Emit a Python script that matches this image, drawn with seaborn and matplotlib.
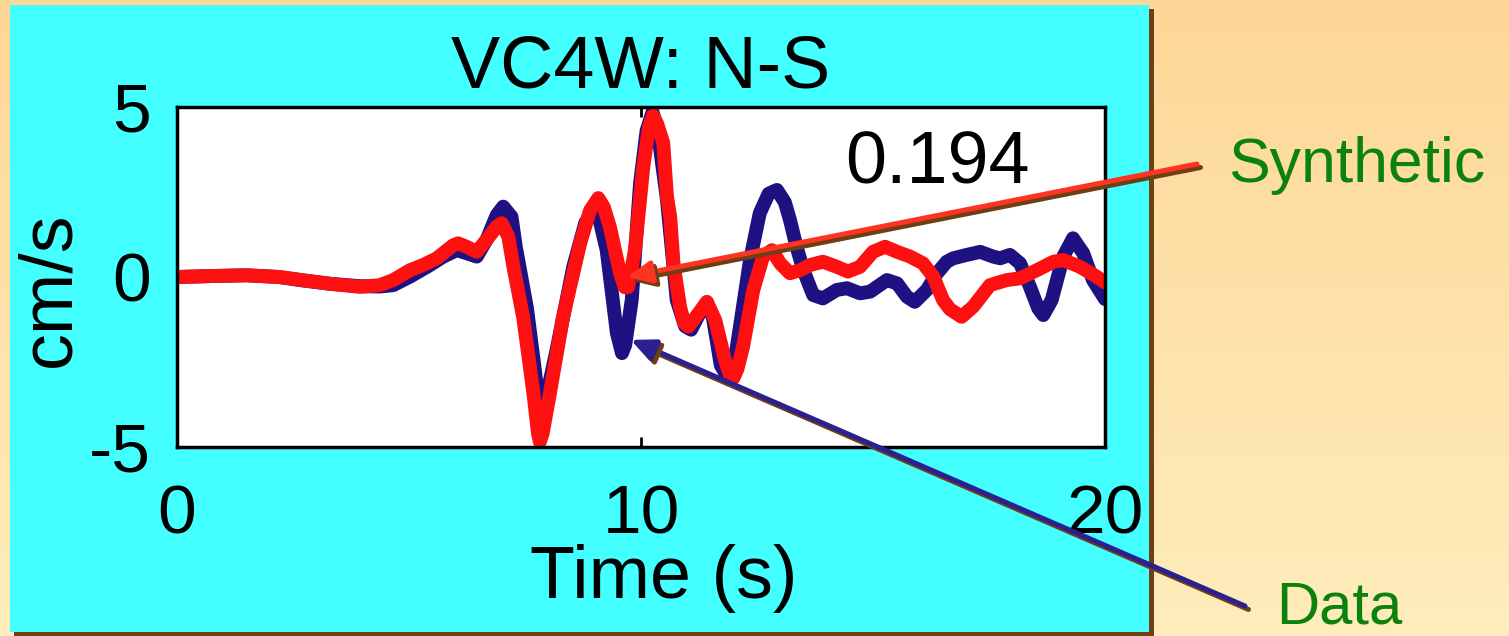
import numpy as np
import matplotlib
matplotlib.use("Agg")
import matplotlib.pyplot as plt
import matplotlib.patheffects as pe
from matplotlib.patches import Rectangle
from matplotlib.colors import LinearSegmentedColormap
import seaborn as sns

# ---- seismogram traces, station VC4W, north-south component ----
time_synth = [0.0, 0.8, 1.5, 2.2, 2.7, 3.3, 3.94, 4.37, 4.66, 5.02, 5.3, 5.6, 5.82, 5.95,
              6.06, 6.24, 6.46, 6.67, 6.89, 7.0, 7.14, 7.25, 7.46, 7.68, 7.78, 7.82, 7.88,
              8.04, 8.32, 8.69, 8.9, 9.08, 9.2, 9.33, 9.55, 9.65, 9.72, 9.87, 10.05, 10.17,
              10.26, 10.35, 10.48, 10.56, 10.63, 10.7, 10.84, 10.93, 11.02, 11.24, 11.42,
              11.6, 11.81, 11.92, 11.99, 12.08, 12.2, 12.42, 12.63, 12.82, 13.0, 13.21,
              13.43, 13.64, 13.92, 14.22, 14.46, 14.72, 15.0, 15.26, 15.52, 15.8, 16.08,
              16.3, 16.51, 16.66, 16.91, 17.16, 17.52, 17.88, 18.17, 18.53, 18.89, 19.1,
              19.46, 19.82, 20.0]
vel_synth = [0.0, 0.03, 0.05, 0.0, -0.09, -0.2, -0.29, -0.24, -0.09, 0.2, 0.35, 0.55, 0.79, 0.93,
             0.99, 0.89, 0.74, 1.09, 1.48, 1.58, 1.19, 0.3, -1.18, -3.4, -4.6, -4.85, -4.6,
             -3.4, -1.18, 1.0, 1.95, 2.32, 2.05, 1.47, 0.1, -0.3, -0.3, 0.79, 3.24, 4.4,
             4.75, 4.5, 3.94, 2.36, 1.76, 0.4, -0.87, -1.35, -1.46, -1.07, -0.73,
             -1.27, -2.44, -2.9, -2.98, -2.7, -2.05, -0.38, 0.6, 0.79, 0.4, 0.11,
             0.2, 0.35, 0.45, 0.3, 0.16, 0.3, 0.74, 0.89, 0.74, 0.6, 0.4,
             0.01, -0.68, -0.95, -1.17, -0.87, -0.24, -0.09, -0.04, 0.2, 0.45, 0.5,
             0.3, 0.01, -0.16]

time_data = [0.0, 0.8, 1.5, 2.2, 2.7, 3.3, 3.94, 4.37, 4.66, 5.02, 5.39, 5.74, 6.03, 6.24,
             6.46, 6.67, 6.89, 7.03, 7.21, 7.3, 7.54, 7.7, 7.82, 7.95, 8.18, 8.54, 8.8,
             9.0, 9.12, 9.26, 9.48, 9.59, 9.66, 9.8, 9.98, 10.12, 10.25, 10.36, 10.56,
             10.77, 10.95, 11.08, 11.25, 11.42, 11.55, 11.72, 11.85, 12.05, 12.35, 12.56,
             12.75, 12.93, 13.1, 13.21, 13.35, 13.5, 13.71, 13.92, 14.22, 14.44, 14.72,
             14.94, 15.3, 15.52, 15.73, 15.9, 16.16, 16.38, 16.59, 16.73, 17.02, 17.31,
             17.59, 17.74, 17.95, 18.17, 18.38, 18.56, 18.67, 18.85, 19.1, 19.31, 19.53,
             19.74, 20.0]
vel_data = [0.0, 0.03, 0.05, 0.0, -0.1, -0.2, -0.27, -0.28, -0.24, 0.01, 0.3, 0.6, 0.79, 0.7,
            0.6, 1.09, 1.82, 2.07, 1.77, 0.9, -0.9, -2.6, -3.97, -3.6, -2.15, 0.3, 1.6,
            1.97, 1.6, 0.79, -1.65, -2.24, -2.0, -0.68, 2.76, 4.3, 4.85, 4.3, 2.26,
            -0.68, -1.45, -1.55, -1.1, -0.75, -1.2, -2.6, -2.9, -2.2, 0.5, 1.88,
            2.45, 2.56, 2.2, 1.68, 0.9, 0.2, -0.53, -0.63, -0.38, -0.33, -0.48,
            -0.43, -0.09, -0.19, -0.58, -0.73, -0.38, 0.11, 0.45, 0.55, 0.65, 0.74,
            0.6, 0.55, 0.65, 0.4, -0.28, -0.92, -1.12, -0.68, 0.6, 1.14, 0.7,
            -0.09, -0.65]

x_ticks = [0, 10, 20]
y_ticks = [-5, 0, 5]
fit_label = "0.194"

sns.set_theme(style="ticks")
plt.rcParams["font.family"] = ["Liberation Sans", "DejaVu Sans"]

W, H = 1509, 636
fig = plt.figure(figsize=(W / 100, H / 100), dpi=100)

# slide backdrop: warm vertical gradient
bg = fig.add_axes([0, 0, 1, 1], zorder=-10)
grad = np.linspace(0, 1, 256)[:, None]
warm = LinearSegmentedColormap.from_list("warm", ["#FDD797", "#FFEDBC"])
bg.imshow(grad, aspect="auto", cmap=warm, extent=[0, 1, 0, 1], origin="upper")
bg.set_xlim(0, 1)
bg.set_ylim(0, 1)
bg.set_axis_off()

# cyan panel with a brown drop shadow
bg.add_patch(Rectangle((14 / W, 0), (1154 - 14) / W, (H - 9) / H,
                       facecolor="#6E3F14", edgecolor="none"))
bg.add_patch(Rectangle((10 / W, 4 / H), (1149 - 10) / W, (H - 5 - 4) / H,
                       facecolor="#44FFFF", edgecolor="none"))

# main trace axes
ax = fig.add_axes([177 / W, 1 - 447 / H, 928 / W, 340 / H])
ax.set_facecolor("white")

sns.lineplot(x=time_data, y=vel_data, ax=ax, color="#1E1282", linewidth=10,
             sort=False, estimator=None, solid_joinstyle="round", solid_capstyle="round")
sns.lineplot(x=time_synth, y=vel_synth, ax=ax, color="#FF1010", linewidth=10,
             sort=False, estimator=None, solid_joinstyle="round", solid_capstyle="round")

ax.set_xlim(0, 20)
ax.set_ylim(-5, 5)
ax.set_xticks(x_ticks)
ax.set_yticks(y_ticks)
ax.set_xticklabels([str(v) for v in x_ticks])
ax.set_yticklabels([str(v) for v in y_ticks])

for side in ["left", "right", "top", "bottom"]:
    ax.spines[side].set_visible(True)
    ax.spines[side].set_color("black")
    ax.spines[side].set_linewidth(2.5)

ax.tick_params(axis="both", direction="in", length=7, width=2, color="black",
               top=True, right=True, labelsize=50, labelcolor="black")
ax.tick_params(axis="x", pad=26)
ax.tick_params(axis="y", pad=19)

ax.set_title("VC4W: N-S", fontsize=53, color="black", pad=14)
ax.set_xlabel("Time (s)", fontsize=53, color="black")
ax.xaxis.set_label_coords((664 - 177) / 928, (447 - 544) / 340)
ax.set_ylabel("cm/s", fontsize=53, color="black", va="center")
ax.yaxis.set_label_coords((50 - 177) / 928, (447 - 289) / 340)

ax.text(14.4, 2.75, fit_label, fontsize=53, color="black", ha="left", va="baseline")

# callout arrows pointing at the two traces
shadow = [pe.SimpleLineShadow(offset=(2.5, -2.5), shadow_color="#6E3F14", alpha=1.0),
          pe.Normal()]
arrow_style = "-|>,head_length=1.2,head_width=0.55"

a1 = ax.annotate("", xy=(9.7, 0.0), xycoords="data",
                 xytext=(1197, H - 164), textcoords="figure pixels",
                 arrowprops=dict(arrowstyle=arrow_style, color="#FF3322", lw=3.6,
                                 shrinkA=0, shrinkB=0, mutation_scale=12),
                 annotation_clip=False)
a1.arrow_patch.set_path_effects(shadow)

a2 = ax.annotate("", xy=(9.78, -1.85), xycoords="data",
                 xytext=(1245, H - 606), textcoords="figure pixels",
                 arrowprops=dict(arrowstyle=arrow_style, color="#2B2090", lw=3.6,
                                 shrinkA=0, shrinkB=0, mutation_scale=12),
                 annotation_clip=False)
a2.arrow_patch.set_path_effects(shadow)

fig.text(1228 / W, 1 - 182 / H, "Synthetic", fontsize=45, color="#0B820B",
         ha="left", va="baseline")
fig.text(1276 / W, 1 - 623 / H, "Data", fontsize=43, color="#0B820B",
         ha="left", va="baseline")

fig.savefig("out.png", dpi=100)
